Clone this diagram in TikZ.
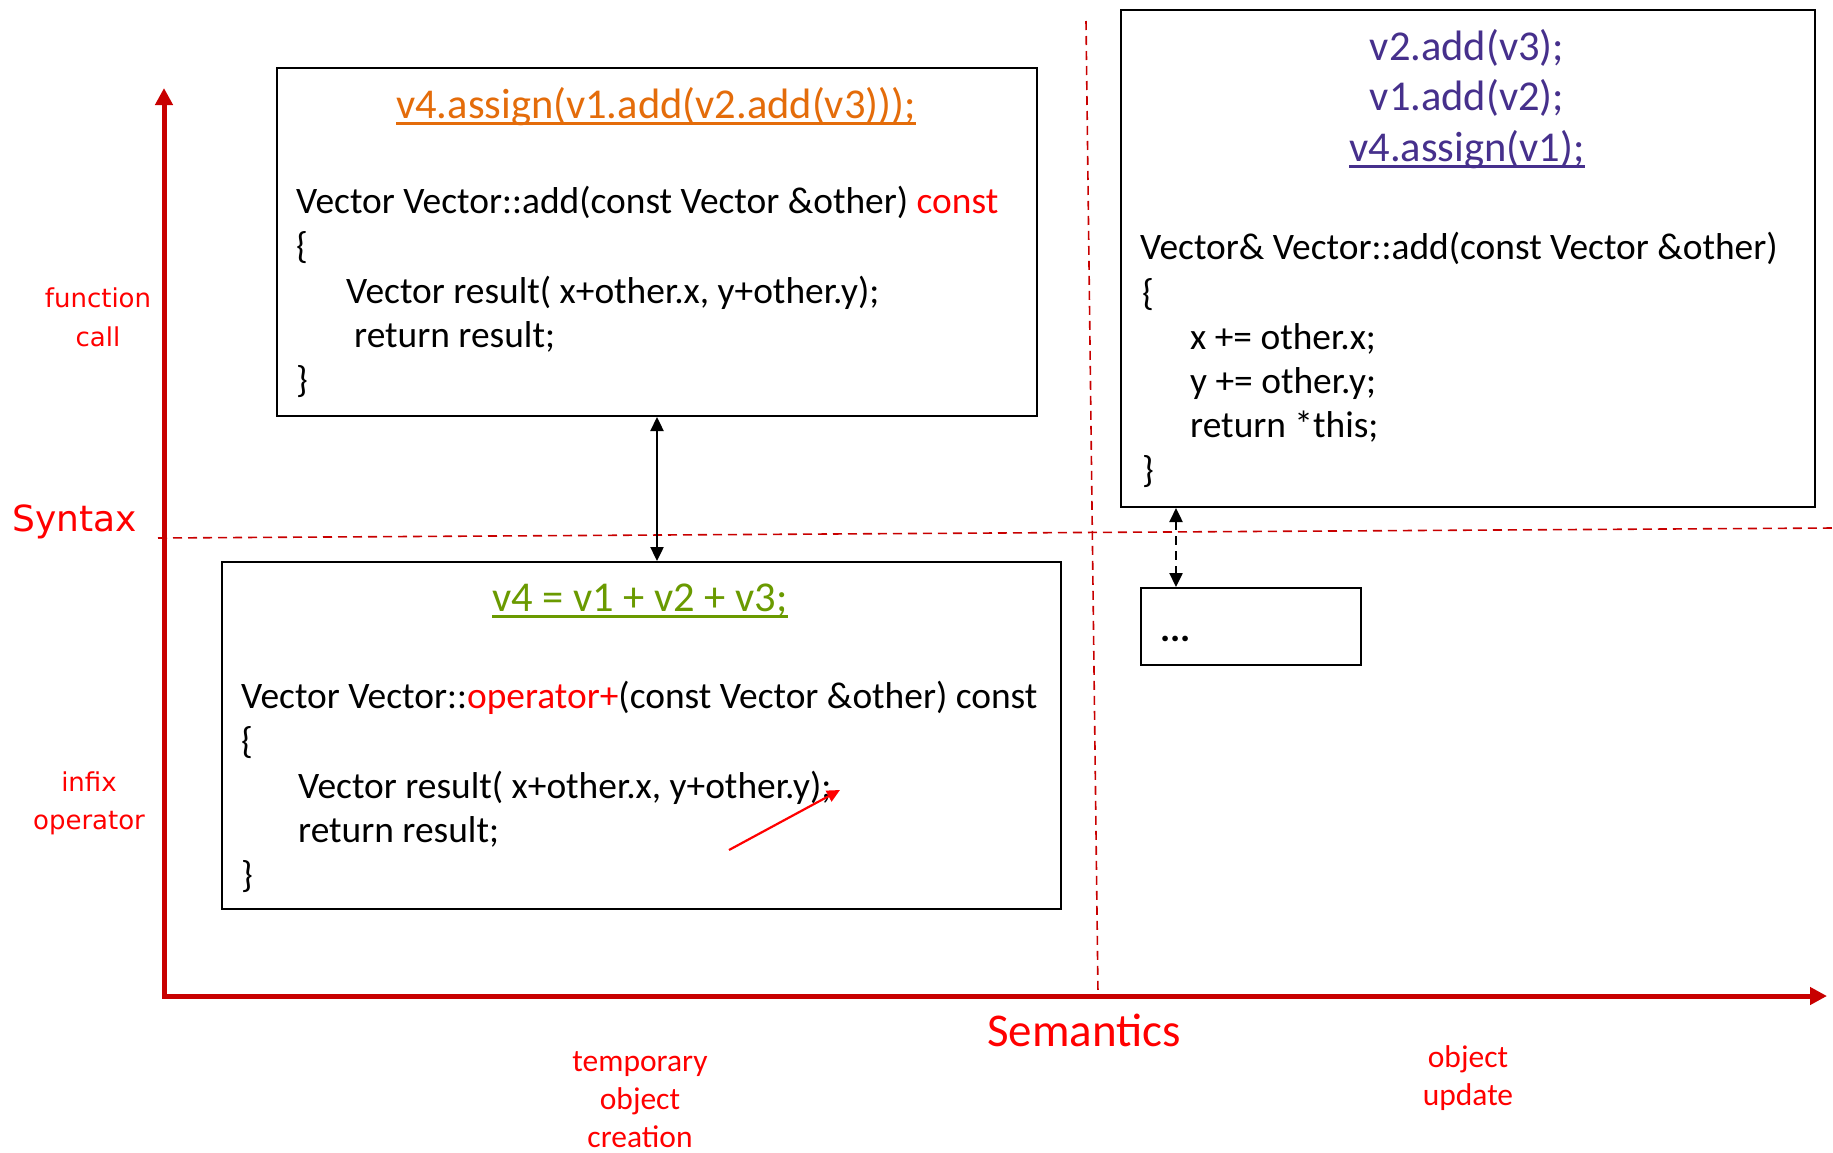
\documentclass[tikz,border=0pt]{standalone}
\usepackage{fontspec}
\setmainfont{Carlito}
\newfontfamily\labfont{DejaVu Sans}
\usetikzlibrary{arrows.meta,calc}
\definecolor{axisred}{HTML}{C80000}
\definecolor{txtred}{HTML}{FF0000}
\definecolor{orng}{HTML}{E46C0A}
\definecolor{grn}{HTML}{6A9A00}
\definecolor{purp}{HTML}{46308C}
\begin{document}
\begin{tikzpicture}[x=1pt,y=-1pt,
  box/.style={draw=black, line width=2pt, fill=white, anchor=north west, inner sep=0pt},
  code/.style={anchor=base west, inner sep=0pt, font=\fontsize{37.4}{44}\selectfont},
  ttl/.style={anchor=base, inner sep=0pt, font=\fontsize{42.5}{50}\selectfont},
  lab/.style={anchor=base, inner sep=0pt, text=txtred, font=\labfont\fontsize{26}{31}\selectfont},
  biglab/.style={anchor=base, inner sep=0pt, text=txtred, font=\labfont\fontsize{36}{42}\selectfont},
  sem/.style={anchor=base, inner sep=0pt, text=txtred, font=\fontsize{31.5}{38}\selectfont},
  semtitle/.style={anchor=base, inner sep=0pt, text=txtred, font=\fontsize{47}{56}\selectfont},
  gridline/.style={draw=axisred, line width=1.6pt, dash pattern=on 9pt off 6pt},
  axis/.style={draw=axisred, line width=5pt, line join=miter,
    arrows={Triangle[length=17pt,width=17pt]-Triangle[length=17pt,width=17pt]}},
  dbl/.style={draw=black, line width=2.4pt,
    arrows={Triangle[length=14pt,width=13pt]-Triangle[length=14pt,width=13pt]}},
  dbldash/.style={dbl, dash pattern=on 9pt off 6pt},
  pointer/.style={draw=txtred, line width=2.2pt, arrows={-Triangle[length=13pt,width=12pt]}},
  uline/.style={line width=2.5pt}
]
\useasboundingbox (0,0) rectangle (1833,1152);

% quadrant lines
\coordinate (h1) at (158,538);
\coordinate (h2) at (1833,528);
\coordinate (v1) at (1086,21);
\coordinate (v2) at (1098,994);
\draw[gridline] (h1) -- (h2);
\draw[gridline] (v1) -- (v2);

% axes
\coordinate (origin) at (164,996);
\coordinate (ytip) at (164,88);
\coordinate (xtip) at (1827,996);
\draw[axis] (ytip) -- (origin) -- (xtip);

% boxes
\node[box, minimum width=760pt, minimum height=348pt] (b1) at (276,67) {};
\node[box, minimum width=839pt, minimum height=347pt] (b2) at (221,561) {};
\node[box, minimum width=694pt, minimum height=497pt] (b3) at (1120,9) {};
\node[box, minimum width=220pt, minimum height=77pt] (b4) at (1140,587) {};

% box 1
\node[ttl, text=orng] (t1) at (656,118) {v4.assign(v1.add(v2.add(v3)));};
\draw[orng, uline] ([yshift=-5.5pt]t1.base west) -- ([yshift=-5.5pt]t1.base east);
\node[code] (b1l1) at (296,213) {Vector Vector::add(const Vector \&other) \textcolor{txtred}{const}};
\node[code] (b1l2) at (296,258) {\{};
\node[code] (b1l3) at (346,303) {Vector result( x+other.x, y+other.y);};
\node[code] (b1l4) at (354,347) {return result;};
\node[code] (b1l5) at (296,392) {\}};

% box 2
\node[ttl, text=grn] (t2) at (640,611) {v4 = v1 + v2 + v3;};
\draw[grn, uline] ([yshift=-5.5pt]t2.base west) -- ([yshift=-5.5pt]t2.base east);
\node[code] (b2l1) at (241,708) {Vector Vector::\textcolor{txtred}{operator+}(const Vector \&other) const};
\node[code] (b2l2) at (241,753) {\{};
\node[code] (b2l3) at (298,798) {Vector result( x+other.x, y+other.y);};
\node[code] (b2l4) at (298,842) {return result;};
\node[code] (b2l5) at (241,887) {\}};

% box 3
\node[ttl, text=purp] (t3a) at (1467,60) {v2.add(v3);};
\node[ttl, text=purp] (t3b) at (1467,110) {v1.add(v2);};
\node[ttl, text=purp] (t3c) at (1467,161) {v4.assign(v1);};
\draw[purp, uline] ([yshift=-5.5pt]t3c.base west) -- ([yshift=-5.5pt]t3c.base east);
\node[code] (b3l1) at (1140,259) {Vector\& Vector::add(const Vector \&other)};
\node[code] (b3l2) at (1142,305) {\{};
\node[code] (b3l3) at (1190,349) {x += other.x;};
\node[code] (b3l4) at (1190,393) {y += other.y;};
\node[code] (b3l5) at (1190,437) {return *this;};
\node[code] (b3l6) at (1142,482) {\}};

% box 4
\node[code, font=\fontsize{38}{44}\selectfont\bfseries] (dots) at (1160,641) {...};

% connectors
\draw[dbl] (b1.south) -- (b1.south |- b2.north);
\coordinate (dc) at ([xshift=36pt]b4.north west);
\draw[dbldash] (dc |- b3.south) -- (dc);
\coordinate (p1) at (729,850);
\coordinate (p2) at (840,790);
\draw[pointer] (p1) -- (p2);

% axis labels
\node[lab] (fc1) at (98,307) {function};
\node[lab] (fc2) at (98,346) {call};
\node[biglab] (syn) at (75,531) {Syntax};
\node[lab] (io1) at (89,791) {infix};
\node[lab] (io2) at (89,829) {operator};
\node[semtitle] (sem) at (1084,1046) {Semantics};
\node[sem] (tc1) at (640,1071) {temporary};
\node[sem] (tc2) at (640,1109) {object};
\node[sem] (tc3) at (640,1147) {creation};
\node[sem] (ou1) at (1468,1067) {object};
\node[sem] (ou2) at (1468,1105) {update};
\end{tikzpicture}
\end{document}
